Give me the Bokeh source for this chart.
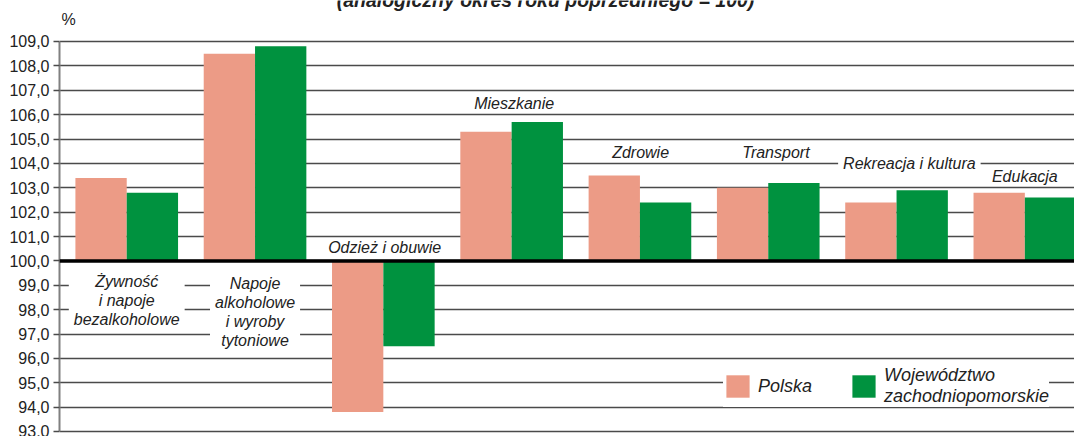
from bokeh.plotting import figure
from bokeh.models import (Range1d, FixedTicker, Span, Label, Legend, LegendItem,
                          ColumnDataSource)
from bokeh.transform import dodge
from bokeh.core.properties import value
from bokeh.embed import file_html
from bokeh.resources import INLINE

# ---------------- data ----------------
categories = [
    "Żywność\ni napoje\nbezalkoholowe",
    "Napoje\nalkoholowe\ni wyroby\ntytoniowe",
    "Odzież i obuwie",
    "Mieszkanie",
    "Zdrowie",
    "Transport",
    "Rekreacja i kultura",
    "Edukacja",
]
polska = [103.4, 108.5, 93.8, 105.3, 103.5, 103.0, 102.4, 102.8]
zachodniopomorskie = [102.8, 108.8, 96.5, 105.7, 102.4, 103.2, 102.9, 102.6]
series_names = ["Polska", "Województwo\nzachodniopomorskie"]
y_ticks = [93, 94, 95, 96, 97, 98, 99, 100, 101, 102, 103, 104, 105, 106, 107, 108, 109]
y_tick_labels = ["93,0", "94,0", "95,0", "96,0", "97,0", "98,0", "99,0", "100,0",
                 "101,0", "102,0", "103,0", "104,0", "105,0", "106,0", "107,0",
                 "108,0", "109,0"]
unit_label = "%"
subtitle = "(analogiczny okres roku poprzedniego = 100)"
base_value = 100

# ---------------- layout / style ----------------
# category label anchors (x offset from category index, y in data units)
label_x_offset = [0.0, 0.0, 0.01, 0.02, 0.005, 0.06, 0.1, 0.0]
label_y = [98.38, 97.91, 100.53, 106.45, 104.43, 104.43, 103.98, 103.45]

FONT = "Liberation Sans"
C_POL = "#EC9B86"
C_WOJ = "#00923F"
TXT = "#222222"

idx = list(range(len(categories)))
src = ColumnDataSource(dict(x=idx, polska=polska, woj=zachodniopomorskie))
lab_src = ColumnDataSource(dict(
    x=[i + o for i, o in zip(idx, label_x_offset)], y=label_y, text=categories))

# the frame covers the full height so that the texts above the axis can be drawn
p = figure(width=1074, height=436, output_backend="svg", toolbar_location=None,
           x_range=Range1d(-0.524, 7.387), y_range=Range1d(92.795, 110.682),
           x_axis_location=None,
           min_border_left=59, min_border_right=0, min_border_top=0,
           min_border_bottom=0)
p.outline_line_color = None
p.background_fill_color = "white"
p.border_fill_color = "white"

# grid
p.xgrid.visible = False
p.ygrid.ticker = FixedTicker(ticks=y_ticks)
p.ygrid.grid_line_color = "#4a4a4a"
p.ygrid.grid_line_width = 1.5

# y axis
ax = p.yaxis[0]
ax.ticker = FixedTicker(ticks=y_ticks)
ax.bounds = (y_ticks[0], y_ticks[-1])
ax.major_label_overrides = {t: l for t, l in zip(y_ticks, y_tick_labels)}
ax.axis_line_color = "#808080"
ax.axis_line_width = 2
ax.major_tick_in = 0
ax.major_tick_out = 6
ax.major_tick_line_color = "#4a4a4a"
ax.major_tick_line_width = 1.5
ax.minor_tick_line_color = None
ax.major_label_standoff = 4
ax.major_label_text_font = FONT
ax.major_label_text_font_size = "16px"
ax.major_label_text_color = TXT

# bars
r1 = p.vbar(x=dodge("x", -0.2, range=p.x_range), top="polska", bottom=base_value,
            width=0.4, source=src, fill_color=C_POL, line_color=None)
r2 = p.vbar(x=dodge("x", 0.2, range=p.x_range), top="woj", bottom=base_value,
            width=0.4, source=src, fill_color=C_WOJ, line_color=None)

# base line at 100
p.add_layout(Span(location=base_value, dimension="width", line_color="black",
                  line_width=3.5))

# category labels with white background
p.text(x="x", y="y", text="text", source=lab_src,
       text_font=value(FONT), text_font_size="16px", text_font_style="italic",
       text_color=TXT, text_align="center", text_baseline="middle",
       text_line_height=1.12,
       background_fill_color="white",
       padding=dict(left=5, right=5, top=0, bottom=0))

# unit label and cut-off subtitle (screen units, relative to the frame)
p.add_layout(Label(x=2, y=417, x_units="screen", y_units="screen", text=unit_label,
                   text_font=FONT, text_font_size="16px", text_color=TXT,
                   text_baseline="middle", text_align="left"))
p.add_layout(Label(x=486, y=437, x_units="screen", y_units="screen", text=subtitle,
                   text_font=FONT, text_font_size="19.5px",
                   text_font_style="bold italic",
                   text_color=TXT, text_baseline="alphabetic", text_align="center"))

# legend
legend = Legend(items=[LegendItem(label=series_names[0], renderers=[r1]),
                       LegendItem(label=series_names[1], renderers=[r2])],
                orientation="horizontal", location=(664, 29),
                padding=2, spacing=37, label_standoff=6,
                glyph_width=29, glyph_height=28,
                label_text_font=FONT, label_text_font_size="18px",
                label_text_font_style="italic", label_text_color=TXT,
                label_text_line_height=1.15,
                background_fill_color="white", background_fill_alpha=1.0,
                border_line_color=None)
p.add_layout(legend)

open("out.html", "w").write(file_html(p, INLINE))
